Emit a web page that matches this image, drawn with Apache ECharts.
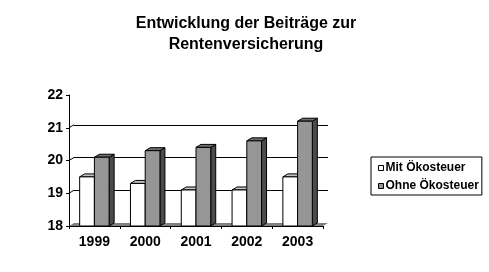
<!DOCTYPE html>
<html>
<head>
<meta charset="utf-8">
<script src="https://cdn.jsdelivr.net/npm/echarts@6/dist/echarts.min.js"></script>
<style>html,body{margin:0;padding:0;background:#fff}#c{width:489px;height:272px}</style>
</head>
<body>
<div id="c"></div>
<script>
const categories = ['1999', '2000', '2001', '2002', '2003'];
const mitOekosteuer = [19.5, 19.3, 19.1, 19.1, 19.5];
const ohneOekosteuer = [20.1, 20.3, 20.4, 20.6, 21.2];
const seriesNames = ['Mit Ökosteuer', 'Ohne Ökosteuer'];
const gridValues = [19, 20, 21];
const titleText = 'Entwicklung der Beiträge zur\nRentenversicherung';
const yMin = 18, yMax = 22, yStep = 1;

const FONT = 'Arial, "Liberation Sans", sans-serif';
const DX = 5, DY = 3;

const palettes = [
  { front: '#ffffff', top: '#c0c0c0', side: '#a0a0a0' },
  { front: '#969696', top: '#6e6e6e', side: '#4b4b4b' }
];

function barRenderer(which) {
  return function (params, api) {
    const i = api.value(0), v = api.value(1);
    const top = api.coord([i, v]);
    const base = api.coord([i, yMin]);
    const band = api.size([1, 0])[0];
    const bw = band * 0.29;
    const x0 = which === 0 ? top[0] - bw : top[0];
    const x1 = x0 + bw;
    const yt = top[1], yb = base[1];
    const p = palettes[which];
    const st = { stroke: '#000', lineWidth: 1 };
    return {
      type: 'group',
      children: [
        { type: 'polygon', shape: { points: [[x1, yt], [x1 + DX, yt - DY], [x1 + DX, yb - DY], [x1, yb]] },
          style: Object.assign({ fill: p.side }, st) },
        { type: 'polygon', shape: { points: [[x0, yt], [x1, yt], [x1 + DX, yt - DY], [x0 + DX, yt - DY]] },
          style: Object.assign({ fill: p.top }, st) },
        { type: 'rect', shape: { x: x0, y: yt, width: bw, height: yb - yt },
          style: Object.assign({ fill: p.front }, st) }
      ]
    };
  };
}

const chart = echarts.init(document.getElementById('c'), null, { renderer: 'canvas' });
chart.setOption({
  animation: false,
  backgroundColor: '#fff',
  title: {
    text: titleText,
    left: 246, top: 13, textAlign: 'center', padding: 0,
    textStyle: { fontFamily: FONT, fontSize: 16, fontWeight: 'bold', color: '#000', lineHeight: 21, align: 'center' }
  },
  legend: {
    orient: 'vertical',
    left: 371, top: 157,
    padding: [5, 3, 3, 7],
    itemGap: 6,
    itemWidth: 5, itemHeight: 5,
    icon: 'rect',
    borderColor: '#000', borderWidth: 1,
    textStyle: { fontFamily: FONT, fontSize: 12, fontWeight: 'bold', color: '#000', padding: [0, 0, 0, -3] },
    data: [
      { name: seriesNames[0], itemStyle: { color: palettes[0].front, borderColor: '#000', borderWidth: 1 } },
      { name: seriesNames[1], itemStyle: { color: palettes[1].front, borderColor: '#000', borderWidth: 1 } }
    ]
  },
  grid: [
    { left: 69, width: 254, top: 95, height: 131 },
    { left: 69 + DX, width: 254, top: 95 - DY, height: 131 }
  ],
  xAxis: [
    {
      type: 'category', gridIndex: 0, data: categories, boundaryGap: true,
      axisLine: { lineStyle: { color: '#000', width: 1 } },
      axisTick: { show: true, length: 3, interval: 0, lineStyle: { color: '#000' } },
      axisLabel: { margin: 9, fontFamily: FONT, fontSize: 14, fontWeight: 'bold', color: '#000' }
    },
    { type: 'category', gridIndex: 1, data: categories, show: false }
  ],
  yAxis: [
    {
      type: 'value', gridIndex: 0, min: yMin, max: yMax, interval: yStep,
      axisLine: { show: true, lineStyle: { color: '#000', width: 1 } },
      axisTick: { show: true, length: 3, lineStyle: { color: '#000' } },
      splitLine: { show: false },
      axisLabel: { margin: 6, fontFamily: FONT, fontSize: 14, fontWeight: 'bold', color: '#000' }
    },
    {
      type: 'value', gridIndex: 1, min: yMin, max: yMax, interval: yStep,
      axisLine: { show: false }, axisTick: { show: false }, axisLabel: { show: false },
      splitLine: { show: true, showMinLine: false, showMaxLine: false, lineStyle: { color: '#000', width: 1 } }
    }
  ],
  series: [
    {
      type: 'custom', name: 'floor', xAxisIndex: 0, yAxisIndex: 0, z: 1, silent: true,
      data: [[0, yMin]],
      renderItem: function (params, api) {
        const cs = params.coordSys;
        const yb = cs.y + cs.height, xl = cs.x, xr = cs.x + cs.width;
        return { type: 'polygon', shape: { points: [[xl, yb], [xr, yb], [xr + DX, yb - DY], [xl + DX, yb - DY]] },
                 style: { fill: '#808080', stroke: null } };
      }
    },
    {
      type: 'custom', name: 'connectors', xAxisIndex: 0, yAxisIndex: 0, z: 1, silent: true,
      data: gridValues.map(v => [0, v]),
      renderItem: function (params, api) {
        const y = api.coord([0, api.value(1)])[1];
        const x = params.coordSys.x;
        return { type: 'line', shape: { x1: x, y1: y, x2: x + DX, y2: y - DY }, style: { stroke: '#000', lineWidth: 1 } };
      }
    },
    {
      type: 'custom', name: seriesNames[0], xAxisIndex: 0, yAxisIndex: 0, z: 3,
      itemStyle: { color: palettes[0].front },
      data: mitOekosteuer.map((v, i) => [i, v]),
      renderItem: barRenderer(0)
    },
    {
      type: 'custom', name: seriesNames[1], xAxisIndex: 0, yAxisIndex: 0, z: 4,
      itemStyle: { color: palettes[1].front },
      data: ohneOekosteuer.map((v, i) => [i, v]),
      renderItem: barRenderer(1)
    }
  ]
});
</script>
</body>
</html>
